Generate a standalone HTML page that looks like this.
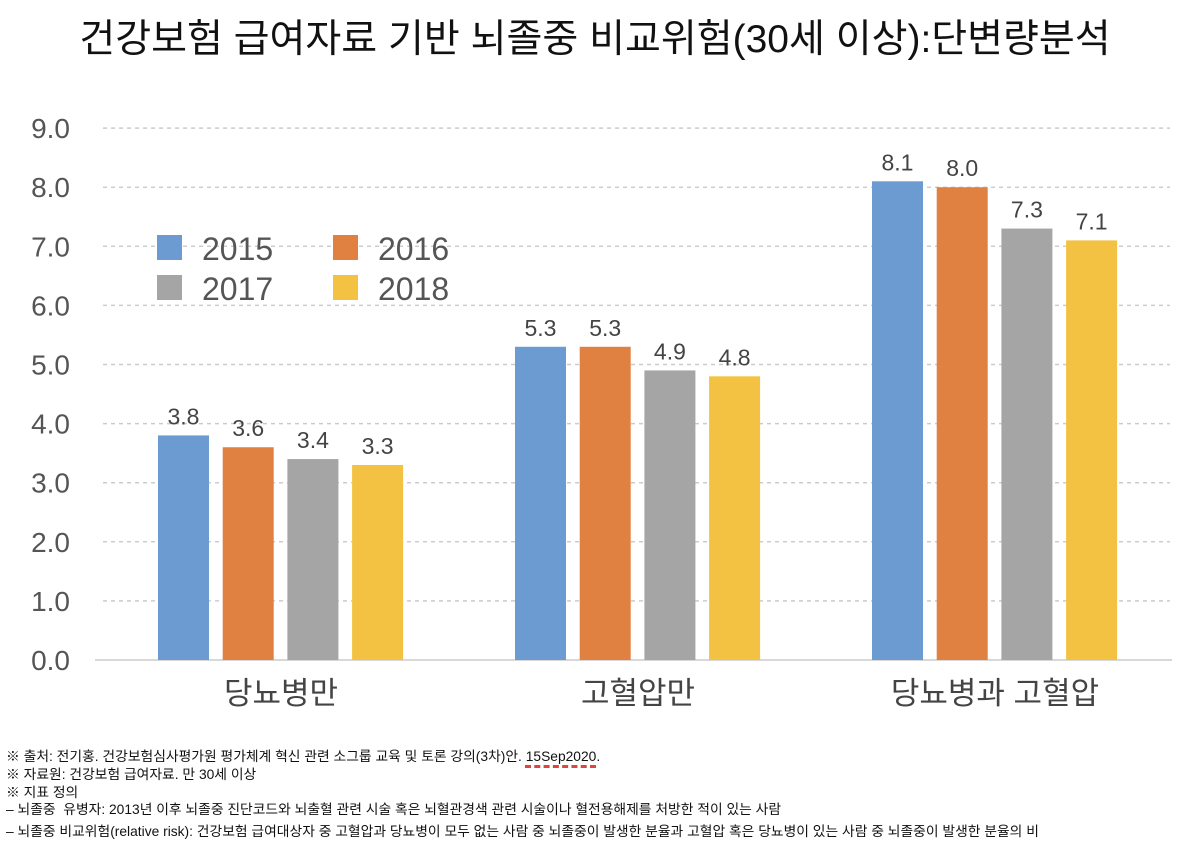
<!DOCTYPE html>
<html><head><meta charset="utf-8"><style>
body{margin:0;background:#fff;width:1190px;height:842px;overflow:hidden;font-family:"Liberation Sans","Noto Sans CJK KR",sans-serif}
svg{position:absolute;left:0;top:0}
.fn{position:absolute;left:6px;font-size:13.8px;color:#111;white-space:nowrap;font-family:"Liberation Sans","Noto Sans CJK KR",sans-serif}
</style></head><body>
<svg width="1190" height="842" id="chart">
<text x="595" y="52" text-anchor="middle" font-size="39" fill="#111" font-family="Liberation Sans, Noto Sans CJK KR, sans-serif">건강보험 급여자료 기반 뇌졸중 비교위험(30세 이상):단변량분석</text>
</svg>
<div class="fn" style="top:745px">※ 출처: 전기홍. 건강보험심사평가원 평가체계 혁신 관련 소그룹 교육 및 토론 강의(3차)안. <span style="text-decoration:underline dashed #e0443a 3px;text-underline-offset:4px">15Sep2020</span>.</div>
<div class="fn" style="top:763px">※ 자료원: 건강보험 급여자료. 만 30세 이상</div>
<div class="fn" style="top:781px">※ 지표 정의</div>
<div class="fn" style="top:798px">– 뇌졸중 &nbsp;유병자: 2013년 이후 뇌졸중 진단코드와 뇌출혈 관련 시술 혹은 뇌혈관경색 관련 시술이나 혈전용해제를 처방한 적이 있는 사람</div>
<div class="fn" style="top:820px">– 뇌졸중 비교위험(relative risk): 건강보험 급여대상자 중 고혈압과 당뇨병이 모두 없는 사람 중 뇌졸중이 발생한 분율과 고혈압 혹은 당뇨병이 있는 사람 중 뇌졸중이 발생한 분율의 비</div>
<script>
const categories=["당뇨병만","고혈압만","당뇨병과 고혈압"];
const years=["2015","2016","2017","2018"];
const s2015=[3.8,5.3,8.1];
const s2016=[3.6,5.3,8.0];
const s2017=[3.4,4.9,7.3];
const s2018=[3.3,4.8,7.1];
const yTicks=[0,1,2,3,4,5,6,7,8,9];
const series=[s2015,s2016,s2017,s2018];
const colors=["#6b9bd1","#e08142","#a5a5a5","#f4c242"];
const NS="http://www.w3.org/2000/svg";
const svg=document.getElementById('chart');
const y0=660,pxU=59.1;
function y(v){return y0-v*pxU;}
function gx(i){return 281+i*357;}
function mk(t,a){const e=document.createElementNS(NS,t);for(const k in a)e.setAttribute(k,a[k]);svg.appendChild(e);return e;}
yTicks.forEach(t=>{
  if(t>0){const l=mk('line',{x1:103,x2:1170,y1:y(t),y2:y(t),stroke:'#ccc','stroke-width':1.5,'stroke-dasharray':'4 4'});
  
  }
  const tx=mk('text',{x:70,y:y(t)+10,'text-anchor':'end','font-size':28,fill:'#555'});
  tx.textContent=t.toFixed(1);
  
  
});
const ax=mk('line',{x1:95,x2:1172,y1:y0,y2:y0,stroke:'#ccc','stroke-width':1.5});


categories.forEach((c,i)=>{
  series.forEach((s,j)=>{
    const x=gx(i)-123+j*64.7;
    const r=mk('rect',{x:x,y:y(s[i]),width:51,height:s[i]*pxU,fill:colors[j]});
    
    
    const t=mk('text',{x:x+25.5,y:y(s[i])-11,'text-anchor':'middle','font-size':23,fill:'#444'});
    t.textContent=s[i].toFixed(1);
    
    
  });
  const ct=mk('text',{x:gx(i),y:704,'text-anchor':'middle','font-size':31,fill:'#444'});
  ct.textContent=c;
  
  
});
years.forEach((yr,j)=>{
  const lx=157+(j%2)*176, ly=235+Math.floor(j/2)*40;
  const r=mk('rect',{x:lx,y:ly,width:25,height:25,fill:colors[j]});
  
  
  const t=mk('text',{x:lx+45,y:ly+25,'font-size':32,fill:'#555'});
  t.textContent=yr;
  
  
});
</script>
</body></html>
